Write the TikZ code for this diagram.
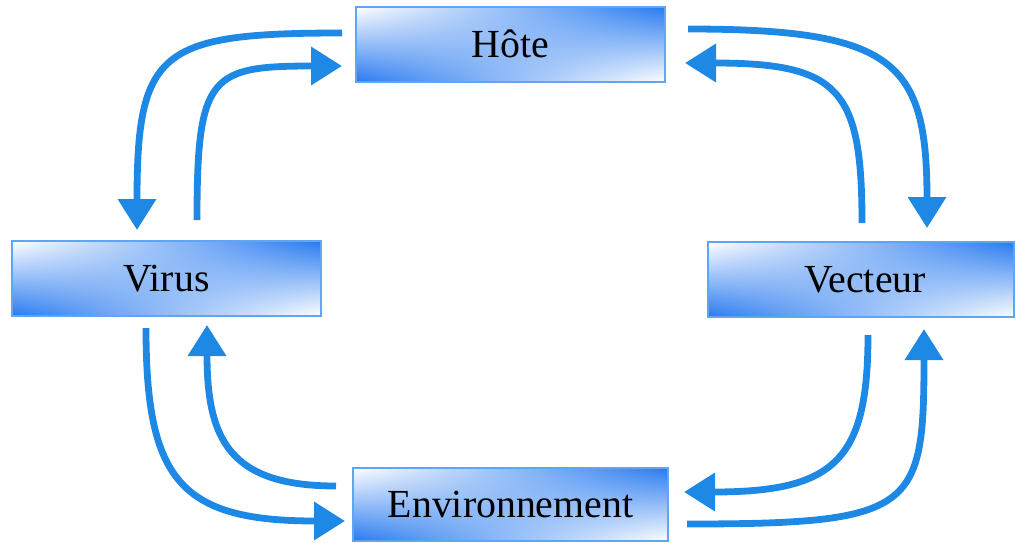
\documentclass[tikz,border=0pt]{standalone}
\usepackage{fontspec}
\setmainfont{Liberation Serif}
\usetikzlibrary{arrows.meta,shadings}
\definecolor{boxblue}{RGB}{40,122,240}
\definecolor{boxedge}{RGB}{95,165,242}
\definecolor{arrblue}{RGB}{30,136,229}
\tikzset{
  boxnode/.style={rectangle, draw=boxedge, line width=1.5pt, inner sep=0pt,
    upper left=white, upper right=boxblue, lower left=boxblue, lower right=white,
    text height=26.4pt, text depth=0pt, font=\fontsize{39.8pt}{42pt}\selectfont},
  flow/.style={draw=arrblue, line width=6.8pt, -{Triangle[width=37pt,length=31pt]}}
}
\begin{document}
\begin{tikzpicture}[x=1pt,y=-1pt]
\useasboundingbox (0,0) rectangle (1015,542);
% nodes
\node[boxnode, minimum width=309pt, minimum height=75pt] (hote) at (510.5,44.5) {Hôte};
\node[boxnode, minimum width=309pt, minimum height=75pt] (virus) at (166.5,278.5) {Virus};
\node[boxnode, minimum width=306pt, minimum height=75pt] (vecteur) at (861,279.5) {\hspace*{8pt}Vecteur};
\node[boxnode, minimum width=315pt, minimum height=73pt] (env) at (510.5,504.5) {Environnement};
% free ends
\coordinate (hoL1) at (342,33);   \coordinate (viT1) at (137,230);
\coordinate (viT2) at (197,220);  \coordinate (hoL2) at (342,66);
\coordinate (hoR1) at (688,29);   \coordinate (veT1) at (927,228);
\coordinate (veT2) at (862,223);  \coordinate (hoR2) at (685,63);
\coordinate (viB1) at (146,328);  \coordinate (enL1) at (345,521);
\coordinate (enL2) at (336,486);  \coordinate (viB2) at (207,325);
\coordinate (veB1) at (868,335);  \coordinate (enR1) at (684,492);
\coordinate (enR2) at (687,524);  \coordinate (veB2) at (924,329);
% connectors
\draw[flow] (hoL1) .. controls (160,33) and (137,50) .. (viT1);
\draw[flow] (viT2) .. controls (197,75) and (210,66) .. (hoL2);
\draw[flow] (hoR1) .. controls (895,29) and (927,62) .. (veT1);
\draw[flow] (veT2) .. controls (862,90) and (840,63) .. (hoR2);
\draw[flow] (viB1) .. controls (146,480) and (180,521) .. (enL1);
\draw[flow] (enL2) .. controls (230,486) and (207,440) .. (viB2);
\draw[flow] (veB1) .. controls (868,460) and (835,492) .. (enR1);
\draw[flow] (enR2) .. controls (915,524) and (924,510) .. (veB2);
\end{tikzpicture}
\end{document}
